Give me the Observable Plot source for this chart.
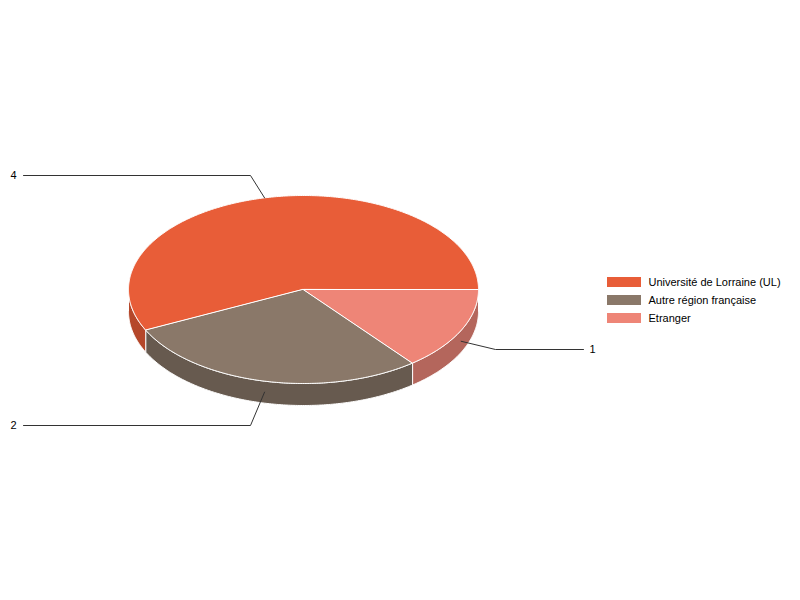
<!DOCTYPE html>
<html><head><meta charset="utf-8">
<script src="https://cdn.jsdelivr.net/npm/d3@7"></script>
<script src="https://cdn.jsdelivr.net/npm/@observablehq/plot@0.6"></script>
<style>body{margin:0;background:#fff;} svg{display:block}</style>
</head><body><div id="chart"></div>
<script>
// ---- data ----
const categories = ["Université de Lorraine (UL)", "Autre région française", "Etranger"];
const values = [4, 2, 1];
const topColors = ["#E85D38", "#8A7869", "#EE8577"];
const sideColors = ["#B5472A", "#675A4F", "#B4665C"];

// ---- layout ----
const cx = 303, cy = 289, rx = 175, ry = 94, depth = 22;
const leaderElbow = [{x: 250, y: 175}, {x: 250, y: 425}, {x: 495, y: 349}];
const leaderEnd = [23, 23, 583];

const total = d3.sum(values);
let cum = 0;
const slices = values.map((v, i) => {
  const a0 = cum; cum += v / total * 2 * Math.PI;
  return {i, lo: 2 * Math.PI - cum, hi: 2 * Math.PI - a0};
});
const P = (a, dy = 0) => ({x: cx + rx * Math.cos(a), y: cy + ry * Math.sin(a) + dy});
function arc(lo, hi, dy = 0) {
  const n = Math.max(2, Math.ceil((hi - lo) / 0.01));
  return d3.range(n + 1).map(k => P(lo + (hi - lo) * k / n, dy));
}

const wallMarks = [], topMarks = [], leaderMarks = [];
slices.forEach(s => {
  const lo = Math.max(s.lo, 0), hi = Math.min(s.hi, Math.PI);
  if (hi > lo) {
    const pts = [...arc(lo, hi), ...arc(lo, hi, depth).reverse()];
    wallMarks.push(Plot.line(pts, {x: "x", y: "y", curve: "linear-closed", fill: sideColors[s.i], stroke: "white", strokeWidth: 1}));
  }
  const pts = [{x: cx, y: cy}, ...arc(s.lo, s.hi)];
  topMarks.push(Plot.line(pts, {x: "x", y: "y", curve: "linear-closed", fill: topColors[s.i], stroke: "white", strokeWidth: 1}));
  const m = (s.lo + s.hi) / 2;
  const front = Math.sin(m) > 0;
  const anchor = P(m, front ? depth / 2 : 0);
  const el = leaderElbow[s.i];
  const end = {x: leaderEnd[s.i], y: el.y};
  leaderMarks.push(Plot.line([anchor, el, end], {x: "x", y: "y", stroke: "#333", strokeWidth: 1}));
  const right = end.x > el.x;
  leaderMarks.push(Plot.text([values[s.i]], {x: () => end.x + (right ? 6 : -7), y: () => end.y, text: d => String(d),
    textAnchor: right ? "start" : "end", fontSize: 11, fill: "#000"}));
});

const legendMarks = [
  Plot.rect(categories, {x1: () => 607, x2: () => 641, y1: (d, i) => 277 + i * 18, y2: (d, i) => 287 + i * 18,
    fill: (d, i) => topColors[i]}),
  Plot.text(categories, {x: () => 648, y: (d, i) => 282 + i * 18, text: d => d, textAnchor: "start", fontSize: 11, fill: "#000"})
];

const chart = Plot.plot({
  width: 800, height: 600, margin: 0,
  x: {domain: [0, 800], range: [0, 800], axis: null},
  y: {domain: [0, 600], range: [0, 600], axis: null},
  color: {type: "identity"},
  style: {fontFamily: "'Liberation Sans', Arial, sans-serif", fontSize: "11px", background: "white"},
  marks: [...wallMarks, ...topMarks, ...leaderMarks, ...legendMarks]
});
document.getElementById("chart").appendChild(chart);
</script>
</body></html>
